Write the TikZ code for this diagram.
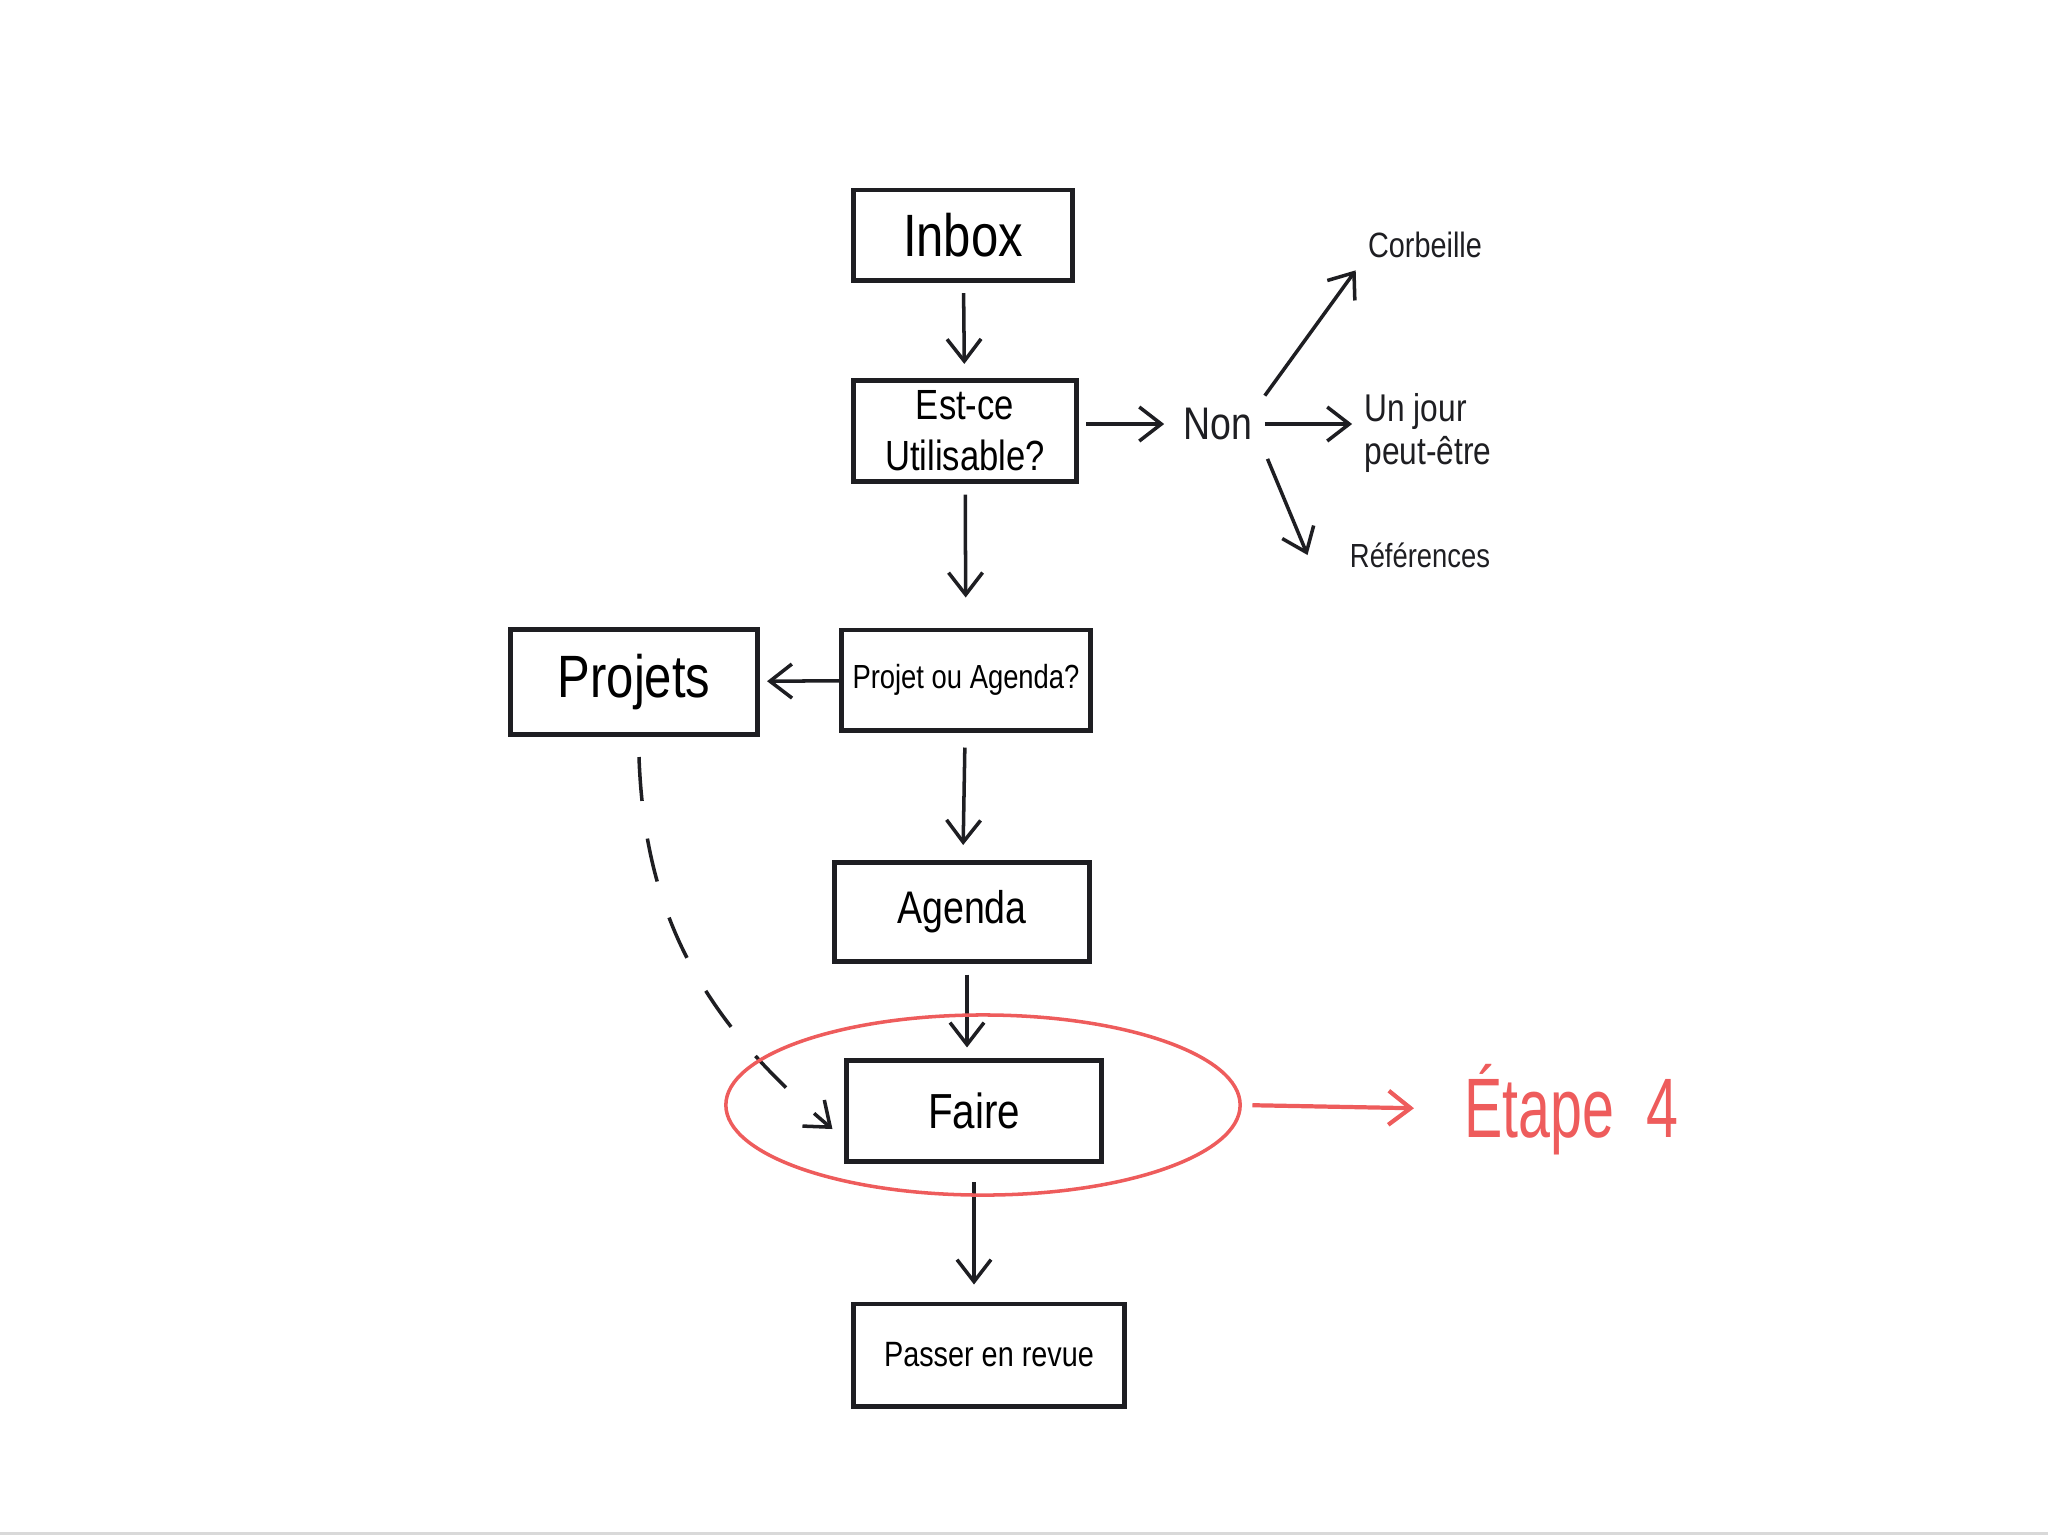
\documentclass[tikz,border=0pt]{standalone}
\usepackage{fontspec}
\setmainfont[FakeStretch=0.82]{Liberation Sans}
\newfontfamily\etroite[FakeStretch=0.68]{Liberation Sans}
\usetikzlibrary{arrows.meta,shapes.geometric}
\definecolor{etaperouge}{RGB}{238,92,92}
\definecolor{encre}{RGB}{30,30,34}
\tikzset{
  boite/.style={draw=encre, line width=1.4pt, inner sep=0pt},
  fleche/.style={->, line width=1pt, draw=encre},
}

\begin{document}
\begin{tikzpicture}[x=0.01cm,y=-0.01cm,>={Straight Barb[length=0.22cm,width=0.34cm]}]
    \useasboundingbox (0,0) rectangle (2048,1535);
    \fill[gray!30] (0,1532) rectangle (2048,1535);
    % boites
    \node[boite,minimum width=2.18cm,minimum height=0.9cm,font=\fontsize{17pt}{20pt}\selectfont] (inbox) at (963,235) {Inbox};
    \node[boite,minimum width=2.23cm,minimum height=1.01cm,align=center,font=\fontsize{12pt}{14.5pt}\selectfont] (utile) at (965,431) {Est-ce\\Utilisable?};
    \node[boite,minimum width=2.49cm,minimum height=1.0cm,font=\fontsize{9.5pt}{12pt}\selectfont] (question) at (966,680) {Projet ou Agenda?};
    \node[boite,minimum width=2.47cm,minimum height=1.05cm,font=\fontsize{17pt}{20pt}\selectfont] (projets) at (634,682) {Projets};
    \node[boite,minimum width=2.54cm,minimum height=0.99cm,font=\fontsize{13pt}{16pt}\selectfont] (agenda) at (962,912) {Agenda};
    \node[boite,minimum width=2.54cm,minimum height=1.01cm,font=\fontsize{14pt}{17pt}\selectfont] (faire) at (974,1111) {Faire};
    \node[boite,minimum width=2.7cm,minimum height=1.02cm,font=\fontsize{10pt}{12pt}\selectfont] (revue) at (989,1355) {Passer en revue};
    % textes
    \node[font=\fontsize{13pt}{15pt}\selectfont,text=encre] (non) at (1218,424) {Non};
    \node[font=\fontsize{10pt}{12pt}\selectfont,text=encre] (corbeille) at (1425,245) {Corbeille};
    \node[font=\fontsize{11pt}{12pt}\selectfont,align=left,text=encre] (unjour) at (1428,433) {Un jour\\peut-être};
    \node[font=\fontsize{9.5pt}{12pt}\selectfont,text=encre] (refs) at (1420,555) {Références};
    % fleches
    \draw[fleche,shorten <=3pt,shorten >=4pt] (inbox) -- (utile);
    \draw[fleche,shorten <=3pt,shorten >=0.3cm] (utile) -- (question);
    \draw[fleche,shorten <=0.15cm,shorten >=0.15cm] (question) -- (agenda);
    \draw[fleche,shorten <=3pt,shorten >=3pt] ([xshift=0.05cm]agenda.south) -- ([xshift=0.05cm]agenda.south |- faire.north);
    \draw[fleche,shorten <=0.18cm,shorten >=0.17cm] (faire.south) -- (faire.south |- revue.north);
    \draw[fleche,shorten >=2pt] (question) -- (projets);
    \draw[fleche,shorten <=2pt,shorten >=2pt] (utile.east |- non.west) -- (non.west);
    \draw[fleche] (non.east) -- (non.east -| unjour.west);
    \draw[fleche] (non.north east) -- (corbeille.south west);
    \draw[fleche,shorten <=2pt] (non.south east) -- ([xshift=-0.3cm]refs.west);
    \draw[fleche,dash pattern=on 0.44cm off 0.38cm] ([xshift=0.05cm,yshift=-0.2cm]projets.south) to[out=-88,in=140] ([xshift=-0.12cm,yshift=-0.18cm]faire.west);
    % etape 4
    \node[ellipse,draw=etaperouge,line width=1pt,minimum width=5.14cm,minimum height=1.8cm] (cercle) at (983,1105) {};
    \node[anchor=base west,inner sep=0pt,text=etaperouge,font=\etroite\fontsize{24pt}{28pt}\selectfont] (etape) at (1464,1137) {Étape\ \ 4};
    \draw[->,etaperouge,line width=1.2pt,shorten <=3pt,shorten >=0.5cm] (cercle.east) -- (etape.west);
\end{tikzpicture}
\end{document}
